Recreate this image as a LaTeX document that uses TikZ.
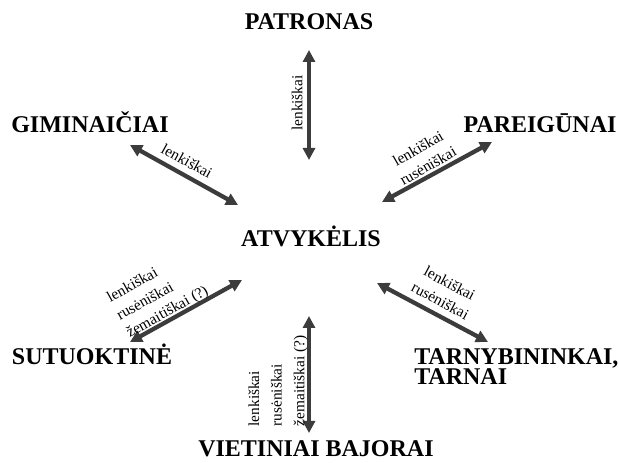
\documentclass[tikz,border=0pt]{standalone}
\usepackage{fontspec}
\setmainfont{Liberation Serif}
\usetikzlibrary{arrows.meta}
\definecolor{rysiopilka}{RGB}{60,60,60}

\begin{document}
\begin{tikzpicture}[x=0.75pt,y=0.75pt,yscale=-1,xscale=1,
	grupe/.style={font=\fontsize{18}{14.5}\selectfont\bfseries, inner sep=0pt, align=left},
	kalba/.style={font=\fontsize{11.5}{15}\selectfont, inner sep=0pt},
	rysys/.style={draw=rysiopilka, line width=3.2pt, {Triangle[length=9pt,width=9pt]}-{Triangle[length=9pt,width=9pt]}}]
	\useasboundingbox (0,0) rectangle (619,463);

	% grupes
	\node [grupe, anchor=base] (atv) at (311,247) {ATVYKĖLIS};
	\node [grupe, anchor=base] (patronas) at (309,30) {PATRONAS};
	\node [grupe, anchor=base] (gim) at (90,133) {GIMINAIČIAI};
	\node [grupe, anchor=base] (par) at (540,133) {PAREIGŪNAI};
	\node [grupe, anchor=base] (sut) at (92,365) {SUTUOKTINĖ};
	\node [grupe, anchor=base west] (tarn) at (414,385) {TARNYBININKAI,\\TARNAI};
	\node [grupe, anchor=base] (viet) at (316,457) {VIETINIAI BAJORAI};

	% rodykliu galai
	\coordinate (pat-a) at (309,50);   \coordinate (pat-b) at (309,160);
	\coordinate (gim-a) at (130,145);  \coordinate (gim-b) at (238,205);
	\coordinate (par-a) at (492,142);  \coordinate (par-b) at (382,202);
	\coordinate (sut-a) at (130,342);  \coordinate (sut-b) at (242,280);
	\coordinate (tarn-a) at (488,342); \coordinate (tarn-b) at (377,283);
	\coordinate (viet-a) at (309,433); \coordinate (viet-b) at (309,316);

	\draw [rysys] (pat-a) -- (pat-b);
	\draw [rysys] (gim-a) -- (gim-b);
	\draw [rysys] (par-a) -- (par-b);
	\draw [rysys] (sut-a) -- (sut-b);
	\draw [rysys] (tarn-a) -- (tarn-b);
	\draw [rysys] (viet-a) -- (viet-b);

	% kalbos
	\node [kalba, rotate=90] (k-pat) at (297,103) {lenkiškai};
	\node [kalba, rotate=-29] (k-gim) at (187,161) {lenkiškai};
	\node [kalba, rotate=30, align=center] (k-par) at (423,157) {lenkiškai\\rusėniškai};
	\node [kalba, rotate=29, align=left] (k-sut) at (158,295) {lenkiškai\\rusėniškai\\žemaitiškai (?)};
	\node [kalba, rotate=-28, align=center] (k-tarn) at (445,292) {lenkiškai\\rusėniškai};
	\node [kalba, rotate=90, align=left, font=\fontsize{11.5}{17}\selectfont] (k-viet) at (278,381) {lenkiškai\\rusėniškai\\žemaitiškai (?)};
\end{tikzpicture}
\end{document}
